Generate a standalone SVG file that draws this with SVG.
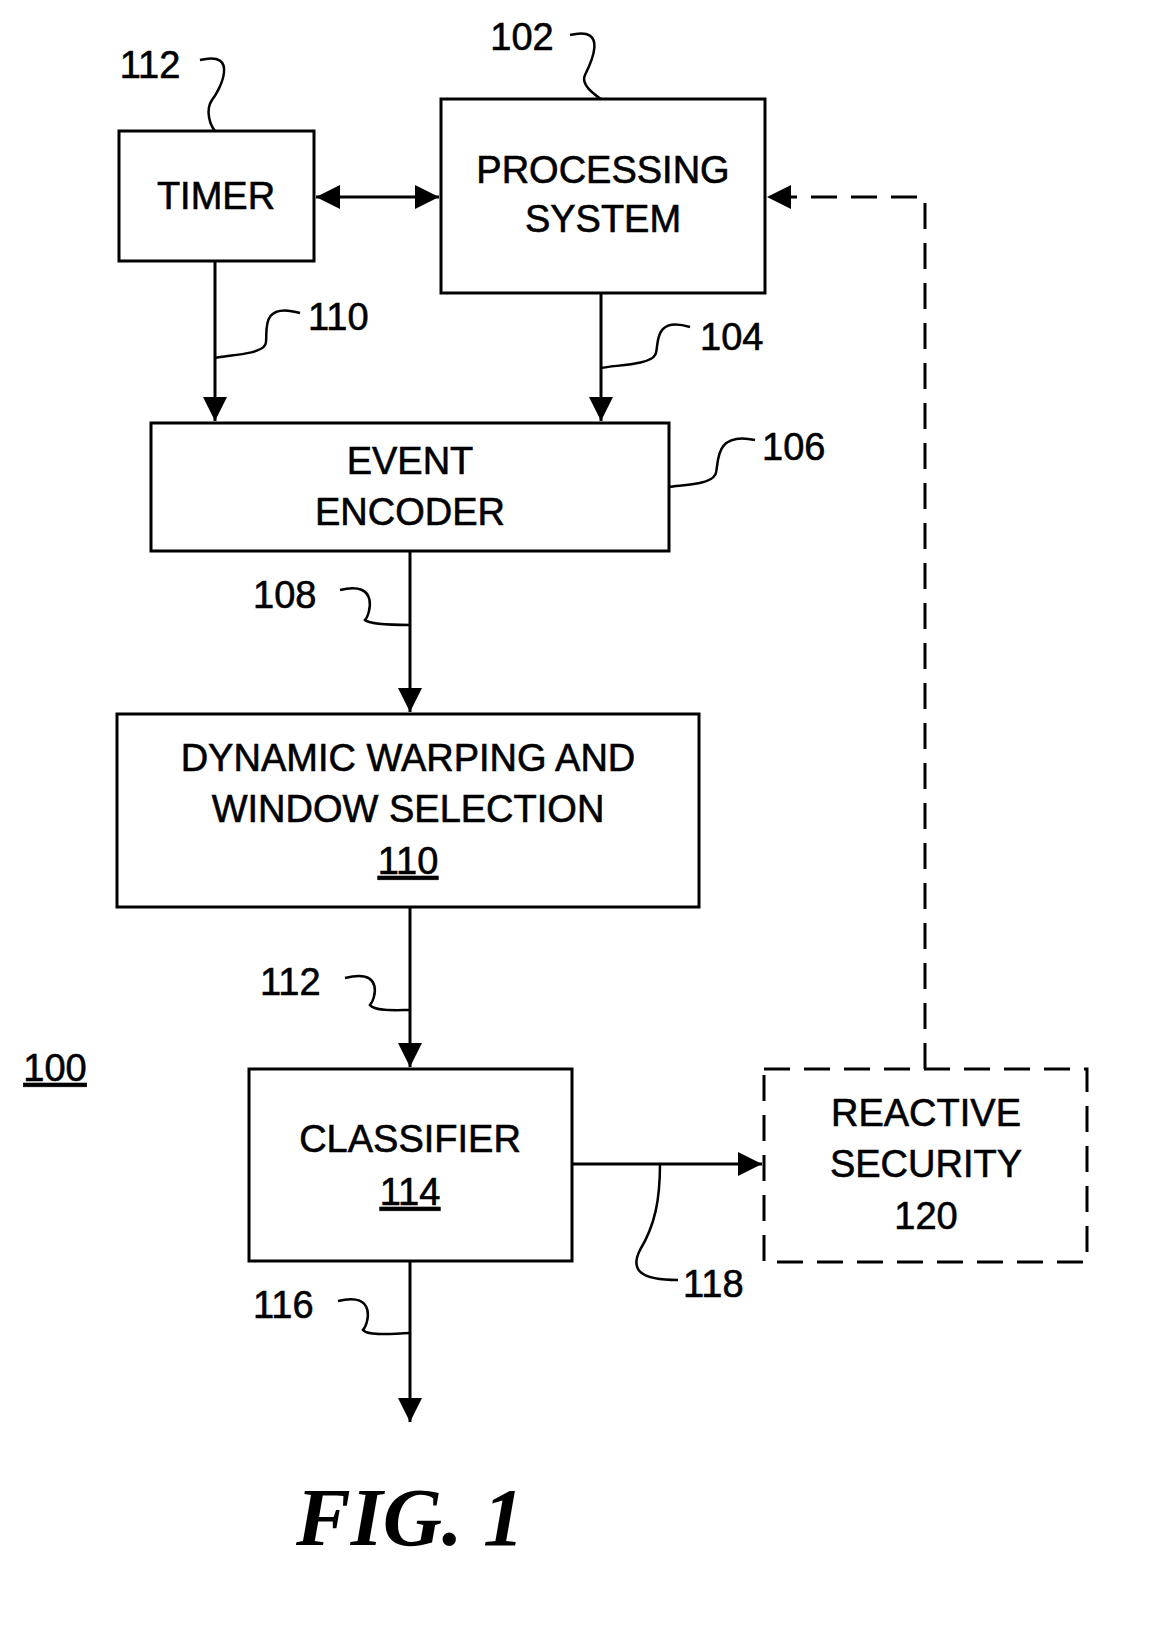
<svg xmlns="http://www.w3.org/2000/svg" width="1155" height="1633" viewBox="0 0 1155 1633">
<style>
.b{fill:none;stroke:#000;stroke-width:3}
.d{fill:none;stroke:#000;stroke-width:3;stroke-dasharray:26,14}
.l{fill:none;stroke:#000;stroke-width:2.5}
text{font-family:"Liberation Sans",Arial,sans-serif;font-size:38px;fill:#000;text-anchor:middle;stroke:#000;stroke-width:0.6}
.n{text-anchor:start}
</style>
<defs><marker id="a" viewBox="0 0 10 10" refX="10" refY="5" markerWidth="24" markerHeight="24" markerUnits="userSpaceOnUse" orient="auto-start-reverse"><path d="M0,0 L10,5 L0,10 z" fill="#000"/></marker></defs>
<rect width="1155" height="1633" fill="#fff"/>
<g id="connectors">
<path class="b" d="M316,197 H439" marker-start="url(#a)" marker-end="url(#a)"/>
<path class="b" d="M215,261 V421" marker-end="url(#a)"/>
<path class="b" d="M601,293 V421" marker-end="url(#a)"/>
<path class="b" d="M410,551 V712" marker-end="url(#a)"/>
<path class="b" d="M410,907 V1067" marker-end="url(#a)"/>
<path class="b" d="M410,1261 V1422" marker-end="url(#a)"/>
<path class="b" d="M572,1164 H762" marker-end="url(#a)"/>
<path class="d" d="M925,1069 V197 H767" marker-end="url(#a)"/>
<path class="l" d="M200,60 C240,50 220,90 212,100 C205,110 210,125 215,131"/>
<path class="l" d="M570,35 C610,25 590,65 585,75 C580,85 595,95 601,99"/>
<path class="l" d="M300,313 C255,300 270,340 265,345 C260,355 225,355 215,358"/>
<path class="l" d="M690,327 C650,315 660,350 655,355 C650,365 615,365 601,368"/>
<path class="l" d="M755,440 C710,430 720,470 715,475 C710,485 680,485 669,487"/>
<path class="l" d="M340,590 C380,580 370,615 365,620 C370,625 400,625 410,625"/>
<path class="l" d="M345,978 C385,968 375,1000 370,1005 C375,1012 400,1010 410,1010"/>
<path class="l" d="M338,1301 C378,1291 368,1325 363,1330 C368,1337 400,1333 410,1333"/>
<path class="l" d="M678,1280 C640,1280 630,1270 640,1250 C655,1225 660,1200 660,1164"/>
</g>
<g id="timer"><rect class="b" x="119" y="131" width="195" height="130"/><text x="216" y="209">TIMER</text><text x="150" y="78">112</text></g>
<g id="processing"><rect class="b" x="441" y="99" width="324" height="194"/><text x="603" y="183">PROCESSING</text><text x="603" y="232">SYSTEM</text><text x="522" y="50">102</text></g>
<g id="encoder"><rect class="b" x="151" y="423" width="518" height="128"/><text x="410" y="474">EVENT</text><text x="410" y="525">ENCODER</text><text class="n" x="762" y="460">106</text></g>
<g id="dynamic"><rect class="b" x="117" y="714" width="582" height="193"/><text x="408" y="771">DYNAMIC WARPING AND</text><text x="408" y="822">WINDOW SELECTION</text><text x="408" y="874" text-decoration="underline">110</text></g>
<g id="classifier"><rect class="b" x="249" y="1069" width="323" height="192"/><text x="410" y="1152">CLASSIFIER</text><text x="410" y="1205" text-decoration="underline">114</text></g>
<g id="reactive"><rect class="d" x="764" y="1069" width="323" height="193"/><text x="926" y="1126">REACTIVE</text><text x="926" y="1177">SECURITY</text><text x="926" y="1229">120</text></g>
<g id="labels">
<text class="n" x="308" y="330">110</text><text class="n" x="700" y="350">104</text>
<text class="n" x="253" y="608">108</text><text class="n" x="260" y="995">112</text>
<text class="n" x="253" y="1318">116</text><text class="n" x="683" y="1297">118</text>
<text x="55" y="1081" text-decoration="underline">100</text>
<text x="410" y="1545" style="font-family:'Liberation Serif',serif;font-weight:bold;font-style:italic;font-size:82px;stroke:none">FIG. 1</text>
</g>
</svg>
